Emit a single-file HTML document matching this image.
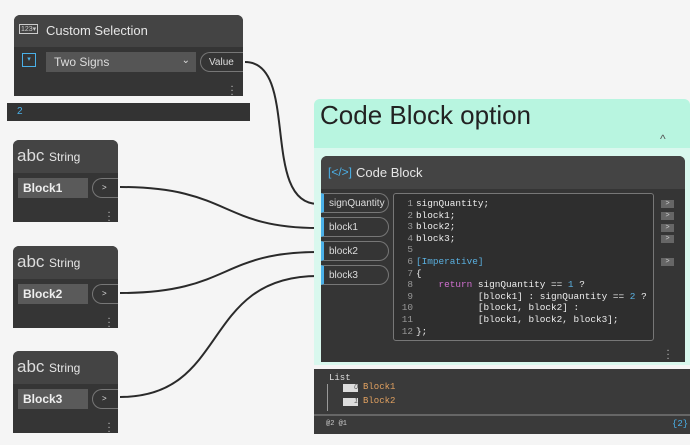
<!DOCTYPE html>
<html><head><style>
body{margin:0;width:690px;height:445px;background:#f5f5f5;position:relative;overflow:hidden;font-family:"Liberation Sans",sans-serif;}
div{position:absolute;box-sizing:border-box;}
.node{background:#353535;border-radius:6px 6px 0 0;}
.hdr{left:0;right:0;top:0;background:#444;border-radius:6px 6px 0 0;color:#e6e6e6;}
.port{border:1px solid #777;border-radius:0 10px 10px 0;color:#ddd;font-size:10px;}
.dots{color:#bbb;font-size:11px;line-height:4px;width:4px;text-align:center;}
.mono{font-family:"Liberation Mono",monospace;}
.op{left:661px;width:13px;height:8px;background:#666;color:#ccc;font-size:7px;line-height:8px;text-align:center;}
.ln{color:#999;display:inline-block;width:20px;text-align:right;margin-right:3px;}
</style></head><body>
<svg style="position:absolute;left:0;top:0" width="690" height="445">
<g fill="none" stroke="#2a2a2a" stroke-width="2">
<path d="M245,62 C300,62 260,204 318,204"/>
<path d="M120,187 C230,187 220,228 318,228"/>
<path d="M120,293 C230,293 220,252 318,252"/>
<path d="M120,397 C230,397 200,276 318,276"/>
</g></svg>

<div class="node" style="left:14px;top:15px;width:229px;height:81px;">
 <div class="hdr" style="height:32px;"><div style="left:5px;top:9px;border:1px solid #ccc;font-size:7px;padding:0 1px;color:#ccc">123▾</div><div style="left:32px;top:8px;font-size:13px">Custom Selection</div></div>
 <div style="left:8px;top:38px;width:14px;height:14px;border:1px solid #4ab0e8;color:#4ab0e8;font-size:7px;text-align:center;line-height:12px">▾</div>
 <div style="left:32px;top:37px;width:150px;height:20px;background:#555;color:#ddd;font-size:12px;padding:3px 8px">Two Signs<span style="position:absolute;right:6px;top:3px;font-size:10px">⌄</span></div>
 <div class="port" style="left:186px;top:37px;width:43px;height:20px;border-radius:10px 0 0 10px;padding:4px 8px;border-right:none">Value</div>
 <div class="dots" style="left:216px;top:67px">.<br>.<br>.</div>
</div>
<div style="left:7px;top:103px;width:243px;height:18px;background:#333;color:#4ab0e8;font-size:10px;padding:3px 10px">2</div>

<div class="node" style="left:13px;top:140px;width:105px;height:82px;"><div class="hdr" style="height:33px"><div style="left:4px;top:6px;font-size:17px;color:#ddd">abc</div><div style="left:36px;top:10px;font-size:12px">String</div></div><div style="left:5px;top:38px;width:70px;height:20px;background:#5a5a5a;color:#eee;font-size:12px;padding:3px 5px;font-weight:bold">Block1</div><div class="port" style="left:79px;top:38px;width:26px;height:20px;border-radius:10px 0 0 10px;border-right:none;padding:4px 9px;font-size:8px">&gt;</div><div class="dots" style="left:94px;top:68px">.<br>.<br>.</div></div>
<div class="node" style="left:13px;top:246px;width:105px;height:82px;"><div class="hdr" style="height:33px"><div style="left:4px;top:6px;font-size:17px;color:#ddd">abc</div><div style="left:36px;top:10px;font-size:12px">String</div></div><div style="left:5px;top:38px;width:70px;height:20px;background:#5a5a5a;color:#eee;font-size:12px;padding:3px 5px;font-weight:bold">Block2</div><div class="port" style="left:79px;top:38px;width:26px;height:20px;border-radius:10px 0 0 10px;border-right:none;padding:4px 9px;font-size:8px">&gt;</div><div class="dots" style="left:94px;top:68px">.<br>.<br>.</div></div>
<div class="node" style="left:13px;top:351px;width:105px;height:82px;"><div class="hdr" style="height:33px"><div style="left:4px;top:6px;font-size:17px;color:#ddd">abc</div><div style="left:36px;top:10px;font-size:12px">String</div></div><div style="left:5px;top:38px;width:70px;height:20px;background:#5a5a5a;color:#eee;font-size:12px;padding:3px 5px;font-weight:bold">Block3</div><div class="port" style="left:79px;top:38px;width:26px;height:20px;border-radius:10px 0 0 10px;border-right:none;padding:4px 9px;font-size:8px">&gt;</div><div class="dots" style="left:94px;top:68px">.<br>.<br>.</div></div>

<div style="left:314px;top:99px;width:376px;height:266px;background:#d9f8ee;border-radius:6px 6px 0 0;"></div>
<div style="left:314px;top:99px;width:376px;height:49px;background:#b8f5e0;border-radius:6px 6px 0 0;"><div style="left:6px;top:1px;font-size:26px;color:#222">Code Block option</div><div style="left:346px;top:33px;font-size:12px;color:#555">^</div></div>

<div style="left:321px;top:156px;width:364px;height:206px;background:#353535;border-radius:6px 6px 0 0;">
 <div class="hdr" style="height:33px"><div style="left:7px;top:9px;font-size:12px;color:#4ab0e8">[&lt;/&gt;]</div><div style="left:35px;top:9px;font-size:13px">Code Block</div></div>
 <div class="dots" style="left:345px;top:190px">.<br>.<br>.</div>
</div>
<div class="port" style="left:321px;top:193px;width:68px;height:20px;border-left:3px solid #4ab0e8;padding:4px 5px">signQuantity</div>
<div class="port" style="left:321px;top:217px;width:68px;height:20px;border-left:3px solid #4ab0e8;padding:4px 5px">block1</div>
<div class="port" style="left:321px;top:241px;width:68px;height:20px;border-left:3px solid #4ab0e8;padding:4px 5px">block2</div>
<div class="port" style="left:321px;top:265px;width:68px;height:20px;border-left:3px solid #4ab0e8;padding:4px 5px">block3</div>
<div style="left:393px;top:193px;width:261px;height:148px;background:#2e2e2e;border:1px solid #777;border-radius:3px;"></div>
<pre class="mono" style="position:absolute;left:393px;top:198px;margin:0;font-size:9.4px;line-height:11.6px;color:#eee"><span class="ln">1</span>signQuantity;
<span class="ln">2</span>block1;
<span class="ln">3</span>block2;
<span class="ln">4</span>block3;
<span class="ln">5</span>
<span class="ln">6</span><span style="color:#5ab0e0">[Imperative]</span>
<span class="ln">7</span>{
<span class="ln">8</span>    <span style="color:#d070d0">return</span> signQuantity == <span style="color:#5ab0e0">1</span> ?
<span class="ln">9</span>           [block1] : signQuantity == <span style="color:#5ab0e0">2</span> ?
<span class="ln">10</span>           [block1, block2] :
<span class="ln">11</span>           [block1, block2, block3];
<span class="ln">12</span>};</pre>
<div class="op" style="top:200px">&gt;</div><div class="op" style="top:212px">&gt;</div><div class="op" style="top:224px">&gt;</div><div class="op" style="top:235px">&gt;</div><div class="op" style="top:258px">&gt;</div>

<div style="left:314px;top:369px;width:376px;height:65px;background:#3a3a3a;">
 <div class="mono" style="left:15px;top:4px;font-size:9px;color:#ddd">List</div>
 <div style="left:13px;top:15px;width:1px;height:27px;background:#999"></div>
 <div style="left:29px;top:15px;width:15px;height:8px;background:#ddd;font-size:7px;text-align:right;color:#555;font-style:italic;line-height:8px">0</div>
 <div class="mono" style="left:49px;top:13px;font-size:9px;color:#e0a060">Block1</div>
 <div style="left:29px;top:29px;width:15px;height:8px;background:#ddd;font-size:7px;text-align:right;color:#555;font-style:italic;line-height:8px">1</div>
 <div class="mono" style="left:49px;top:27px;font-size:9px;color:#e0a060">Block2</div>
 <div style="left:0;top:45px;width:376px;height:2px;background:#666"></div>
 <div class="mono" style="left:12px;top:51px;font-size:7px;color:#ccc">@2 @1</div>
 <div class="mono" style="left:358px;top:50px;font-size:9px;color:#4ab0e8">{2}</div>
</div>
</body></html>
